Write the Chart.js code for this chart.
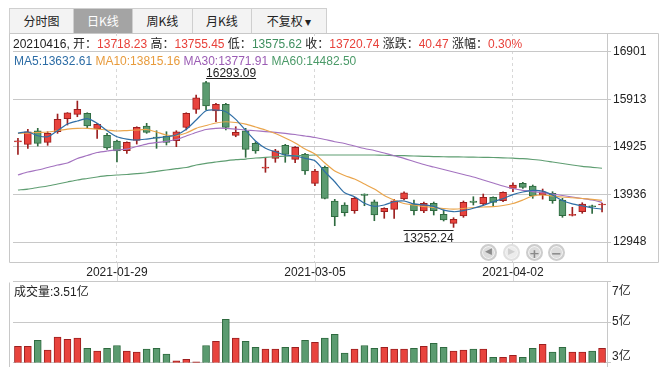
<!DOCTYPE html>
<html>
<head>
<meta charset="utf-8">
<script src="https://cdn.jsdelivr.net/npm/chart.js@4.4.1/dist/chart.umd.min.js"></script>
<style>
  html, body { margin: 0; padding: 0; background: #fff; }
  body { width: 666px; height: 373px; position: relative; overflow: hidden;
         font: 12px "Liberation Sans", "Noto Sans CJK SC", sans-serif; color: #222; }
  canvas { position: absolute; left: 0; }
  #kline { top: 0; }
  #vol { top: 280px; }
  .tabs { position: absolute; left: 9px; top: 8px; display: flex; }
  .tab { box-sizing: border-box; height: 26px; line-height: 24px; border: 1px solid #cfcfcf; border-right: none;
         background: #f3f3f3; text-align: center; font-family: "Noto Sans CJK SC", sans-serif; font-size: 12px; color: #222; }
  .tab:last-child { border-right: 1px solid #cfcfcf; }
  .tab.on { background: #a4a4a4; color: #fff; }
  .row { position: absolute; left: 13px; height: 15px; line-height: 17px; white-space: pre; z-index: 2; overflow: visible; }
  #info { top: 36px; }
  #ma { top: 52px; left: 10px; padding-left: 4px; padding-top: 1px; background: #fff; }
  .r { color: #e8413a; } .g { color: #3f8f5f; }
  #volLabel { position: absolute; left: 14px; top: 284px; line-height: 16px; z-index: 2; }
  .nav { position: absolute; top: 244px; width: 13px; height: 13px; border-radius: 50%; background: #dcdcdc;
         border: 2px solid #cdcdcd; box-shadow: inset 0 0 0 1px #f4f4f4; text-align: center; line-height: 13px;
         font: 9px "DejaVu Sans", sans-serif; color: #8a8a8a; z-index: 2; }
  .nav.off { background: #ececec; border-color: #e0e0e0; color: #cfcfcf; }
</style>
</head>
<body>
<div class="tabs">
  <div class="tab" style="width:64px">分时图</div>
  <div class="tab on" style="width:59px">日K线</div>
  <div class="tab" style="width:60px">周K线</div>
  <div class="tab" style="width:59px">月K线</div>
  <div class="tab" style="width:76px">不复权 ▾</div>
</div>
<div class="row" id="info">20210416, 开：<span class="r">13718.23</span> 高：<span class="r">13755.45</span> 低：<span class="g">13575.62</span> 收：<span class="r">13720.74</span> 涨跌：<span class="r">40.47</span> 涨幅：<span class="r">0.30%</span></div>
<div class="row" id="ma"><span style="color:#2c6ca5">MA5:13632.61</span> <span style="color:#e89b3c">MA10:13815.16</span> <span style="color:#9b5cb4">MA30:13771.91</span> <span style="color:#4b9a68">MA60:14482.50</span></div>
<div id="volLabel">成交量:3.51亿</div>
<div class="nav" style="left:480px">◀</div>
<div class="nav off" style="left:503px">▶</div>
<div class="nav" style="left:526px;font-size:13px;font-weight:bold">+</div>
<div class="nav" style="left:548px;font-size:13px;font-weight:bold">−</div>

<canvas id="kline" width="666" height="282"></canvas>
<canvas id="vol" width="666" height="93"></canvas>

<script>
// trading days shown on the chart
const dates = ['2021-01-15','2021-01-18','2021-01-19','2021-01-20','2021-01-21','2021-01-22','2021-01-25','2021-01-26','2021-01-27','2021-01-28',
  '2021-01-29','2021-02-01','2021-02-02','2021-02-03','2021-02-04','2021-02-05','2021-02-08','2021-02-09','2021-02-10','2021-02-18',
  '2021-02-19','2021-02-22','2021-02-23','2021-02-24','2021-02-25','2021-02-26','2021-03-01','2021-03-02','2021-03-03','2021-03-04',
  '2021-03-05','2021-03-08','2021-03-09','2021-03-10','2021-03-11','2021-03-12','2021-03-15','2021-03-16','2021-03-17','2021-03-18',
  '2021-03-19','2021-03-22','2021-03-23','2021-03-24','2021-03-25','2021-03-26','2021-03-29','2021-03-30','2021-03-31','2021-04-01',
  '2021-04-02','2021-04-06','2021-04-07','2021-04-08','2021-04-09','2021-04-12','2021-04-13','2021-04-14','2021-04-15','2021-04-16'];
const shownDates = ['2021-01-29', '2021-03-05', '2021-04-02'];

const opens = [15030,14980,15263,15022,15242,15513,15604,15625,15305,15167,
  15049,14847,15063,15361,15125,15153,15055,15334,15708,16262,
  15673,15812,15167,15263,15001,14485,14689,14959,14668,14772,
  14169,14502,13801,13718,13599,13946,13786,13578,13628,13842,
  13738,13593,13753,13524,13337,13489,13801,13738,13878,13807,
  14065,14169,14113,13926,13961,13822,13503,13578,13703,13718.23];
const highs = [15105,15292,15313,15242,15610,15640,15881,15637,15417,15209,
  15070,15034,15346,15417,15263,15242,15263,15637,16006,16293.09,
  15833,15833,15346,15313,15034,14710,14876,14980,14931,14793,
  14460,14529,13836,13765,13878,13950,13822,13661,13836,13994,
  13822,13780,13780,13614,13453,13801,13890,13946,13890,13994,
  14181,14190,14134,14050,13994,13857,13670,13765,13718,13755.45];
const lows = [14772,14897,14945,14959,15209,15382,15554,15313,15105,14876,
  14612,14793,14986,15209,14897,14966,14931,15278,15625,15694,
  15450,15278,15138,14710,14793,14398,14606,14606,14597,14356,
  14119,13842,13287,13489,13545,13703,13391,13441,13441,13822,
  13510,13557,13510,13385,13252.24,13462,13718,13718,13703,13786,
  13994,14065,13857,13840,13753,13462,13489,13545,13545,13575.62];
const closes = [15034,15242,15001,15209,15500,15636,15708,15361,15396,14903,
  14841,15022,15334,15230,15110,15022,15242,15625,15949,15777,
  15812,15334,15230,14876,14841,14493,14847,14772,14917,14425,
  14425,13857,13474,13557,13857,13919,13510,13648,13807,13973,
  13599,13753,13599,13406,13420,13774,13774,13878,13774,13981,
  14134,14086,13905,13994,13807,13495,13524,13738,13682,13720.74];

// volume in 亿
const volumes = [3.80,3.80,4.10,3.61,4.25,4.15,4.20,3.70,3.56,3.70,
  3.84,3.56,3.51,3.66,3.70,3.41,3.08,3.16,3.03,3.84,
  4.05,5.13,4.20,4.05,3.75,3.66,3.66,3.75,3.75,4.10,
  4.00,4.20,4.39,3.46,3.66,3.84,3.70,3.75,3.66,3.66,
  3.70,3.80,3.95,3.75,3.56,3.61,3.66,3.66,3.26,3.26,
  3.36,3.26,3.70,3.90,3.51,3.75,3.51,3.51,3.56,3.70];

const ma5 = [15215,15236,15159,15138,15263,15402,15465,15513,15417,15263,
  15138,15090,15070,15090,15117,15138,15174,15292,15486,15679,
  15694,15659,15500,15270,15050,14900,14826,14758,14737,14689,
  14639,14410,14202,13973,13890,13753,13690,13718,13786,13801,
  13740,13720,13690,13610,13578,13600,13650,13710,13785,13850,
  13935,13988,14020,14005,13925,13810,13740,13700,13660,13632.61];
const ma10 = [15205,15215,15226,15236,15267,15298,15313,15313,15298,15278,
  15257,15267,15278,15288,15236,15174,15163,15215,15313,15371,
  15423,15450,15434,15402,15340,15278,15205,15111,15007,14882,
  14778,14591,14425,14331,14258,14154,14050,13915,13822,13749,
  13718,13686,13666,13645,13634,13645,13666,13676,13682,13707,
  13749,13822,13905,13926,13905,13884,13869,13853,13836,13815.16];
const ma30 = [14342,14404,14446,14498,14550,14591,14685,14747,14810,14841,
  14862,14882,14934,14986,15017,15043,15080,15153,15226,15288,
  15313,15313,15298,15278,15263,15246,15230,15209,15184,15153,
  15122,15080,15034,14997,14945,14893,14851,14799,14743,14689,
  14622,14560,14508,14456,14404,14352,14300,14238,14175,14113,
  14061,14023,13998,13973,13946,13915,13884,13853,13822,13771.91];
const ma60 = [14030,14050,14082,14113,14154,14196,14238,14269,14300,14327,
  14342,14352,14369,14389,14419,14446,14473,14498,14550,14585,
  14612,14637,14660,14674,14695,14710,14722,14733,14743,14751,
  14758,14758,14758,14758,14758,14758,14758,14753,14747,14743,
  14737,14731,14726,14722,14720,14716,14712,14710,14706,14700,
  14691,14681,14664,14643,14612,14581,14550,14523,14502,14482.50];

const priceTicks = [12948, 13936, 14925, 15913, 16901];
const volTicks = [3, 5, 7];

const RED = '#e8433d', RED_EDGE = '#9d1f1f';
const GREEN = '#5b9b70', GREEN_EDGE = '#2e6a3f';
const GRID = '#c8c8c8';
const FONT = '"Liberation Sans", "Noto Sans CJK SC", sans-serif';

Chart.defaults.font.family = FONT;
Chart.defaults.font.size = 12;
Chart.defaults.color = '#222';

const up = closes.map((c, i) => c >= opens[i]);
const fills = up.map(u => u ? RED : GREEN);
const edges = up.map(u => u ? RED_EDGE : GREEN_EDGE);

// frame, dashed date lines and the high / low marks
const klineDeco = {
  id: 'klineDeco',
  beforeDraw(chart) {
    const { ctx, chartArea: a, scales: { x } } = chart;
    const l = a.left - 3.5, r = chart.width - 7.5, t = a.top + 0.5, b = a.bottom + 0.5;
    ctx.save();
    ctx.strokeStyle = GRID;
    ctx.lineWidth = 1;
    ctx.beginPath();
    ctx.moveTo(l, t); ctx.lineTo(r, t); ctx.lineTo(r, b); ctx.lineTo(l, b); ctx.closePath();
    ctx.stroke();
    ctx.strokeStyle = '#d8d8d8';
    shownDates.forEach(d => {
      const px = Math.round(x.getPixelForValue(dates.indexOf(d))) + 0.5;
      ctx.beginPath(); ctx.moveTo(px, b); ctx.lineTo(px, chart.height); ctx.stroke();
    });
    ctx.restore();
  },
  afterDatasetsDraw(chart) {
    const { ctx, scales: { x, y } } = chart;
    const hi = highs.indexOf(Math.max(...highs));
    const lo = lows.indexOf(Math.min(...lows));
    ctx.save();
    ctx.font = '12px ' + FONT;
    ctx.fillStyle = '#222';
    ctx.strokeStyle = '#222';
    ctx.lineWidth = 1;

    const t1 = highs[hi].toFixed(2);
    const w1 = ctx.measureText(t1).width;
    const x1 = x.getPixelForValue(hi);
    const y1 = Math.round(y.getPixelForValue(highs[hi]) - 3) + 0.5;
    ctx.beginPath(); ctx.moveTo(x1, y1); ctx.lineTo(x1 + w1, y1); ctx.stroke();
    ctx.textBaseline = 'alphabetic';
    ctx.fillText(t1, x1, y1 - 1.5);

    const t2 = lows[lo].toFixed(2);
    const w2 = ctx.measureText(t2).width;
    const x2 = x.getPixelForValue(lo);
    const y2 = Math.round(y.getPixelForValue(lows[lo]) + 3) + 0.5;
    ctx.beginPath(); ctx.moveTo(x2 - w2, y2); ctx.lineTo(x2, y2); ctx.stroke();
    ctx.fillText(t2, x2 - w2, y2 + 11);
    ctx.restore();
  }
};

const maLine = (label, data, color) => ({
  type: 'line', label, data, borderColor: color, borderWidth: 1.2,
  pointRadius: 0, tension: 0.25, order: 0
});

new Chart(document.getElementById('kline'), {
  type: 'bar',
  data: {
    labels: dates,
    datasets: [
      maLine('MA5', ma5, '#2f6ea6'),
      maLine('MA10', ma10, '#eaa54c'),
      maLine('MA30', ma30, '#a473c0'),
      maLine('MA60', ma60, '#5f9e72'),
      {
        label: 'body', data: opens.map((o, i) => [o, closes[i]]),
        backgroundColor: fills, borderColor: edges, borderWidth: 1, borderSkipped: false,
        barThickness: 7, minBarLength: 1, grouped: false, order: 1
      },
      {
        label: 'wick', data: lows.map((l, i) => [l, highs[i]]),
        backgroundColor: edges, barThickness: 1, grouped: false, order: 2
      }
    ]
  },
  options: {
    responsive: false,
    animation: false,
    layout: { padding: { left: 13, top: 33, right: 0, bottom: 0 } },
    plugins: { legend: { display: false }, tooltip: { enabled: false } },
    scales: {
      x: {
        offset: true,
        grid: {
          offset: false, drawTicks: false, lineWidth: 1,
          color: ctx => shownDates.includes(dates[ctx.index]) ? '#d8d8d8' : 'rgba(0,0,0,0)'
        },
        border: { display: false, dash: [3, 3] },
        ticks: {
          autoSkip: false, maxRotation: 0, padding: 3,
          callback(v) { const d = this.getLabelForValue(v); return shownDates.includes(d) ? d : ''; }
        },
        afterFit(s) { s.height = 20; }
      },
      y: {
        position: 'right',
        min: 12532, max: 17296,
        afterBuildTicks(s) { s.ticks = priceTicks.map(v => ({ value: v })); },
        grid: { color: GRID, tickColor: GRID, tickLength: 4 },
        border: { color: GRID },
        ticks: { padding: 2, callback: v => String(v) },
        afterFit(s) { s.width = 59; }
      }
    }
  },
  plugins: [klineDeco]
});

// volume panel frame and its 亿 labels
const volDeco = {
  id: 'volDeco',
  beforeDraw(chart) {
    const { ctx, chartArea: a } = chart;
    ctx.save();
    ctx.strokeStyle = GRID;
    ctx.lineWidth = 1;
    ctx.beginPath();
    ctx.moveTo(a.left - 3.5, Math.round(a.top) + 0.5); ctx.lineTo(a.left - 3.5, chart.height - 6);
    ctx.moveTo(Math.round(a.right) + 0.5, a.bottom); ctx.lineTo(Math.round(a.right) + 0.5, chart.height - 6);
    ctx.stroke();
    ctx.restore();
  },
  afterDraw(chart) {
    const { ctx, chartArea: a, scales: { y } } = chart;
    ctx.save();
    ctx.font = '12px ' + FONT;
    ctx.fillStyle = '#222';
    ctx.textBaseline = 'middle';
    volTicks.forEach(v => {
      const py = Math.min(Math.max(y.getPixelForValue(v), a.top + 10), a.bottom - 6);
      ctx.fillText(v + '亿', a.right + 5, py);
    });
    ctx.restore();
  }
};

new Chart(document.getElementById('vol'), {
  type: 'bar',
  data: {
    labels: dates,
    datasets: [{
      label: '成交量', data: volumes,
      backgroundColor: fills, borderColor: edges, borderWidth: 1, borderSkipped: false,
      barThickness: 7
    }]
  },
  options: {
    responsive: false,
    animation: false,
    layout: { padding: { left: 13, top: 1.5, right: 0, bottom: 10.5 } },
    plugins: { legend: { display: false }, tooltip: { enabled: false } },
    scales: {
      x: { display: false, offset: true },
      y: {
        position: 'right',
        min: 3, max: 7,
        afterBuildTicks(s) { s.ticks = volTicks.map(v => ({ value: v })); },
        grid: { color: GRID, tickColor: GRID, tickLength: 4 },
        border: { color: GRID },
        ticks: { display: false },
        afterFit(s) { s.width = 59; }
      }
    }
  },
  plugins: [volDeco]
});
</script>
</body>
</html>
